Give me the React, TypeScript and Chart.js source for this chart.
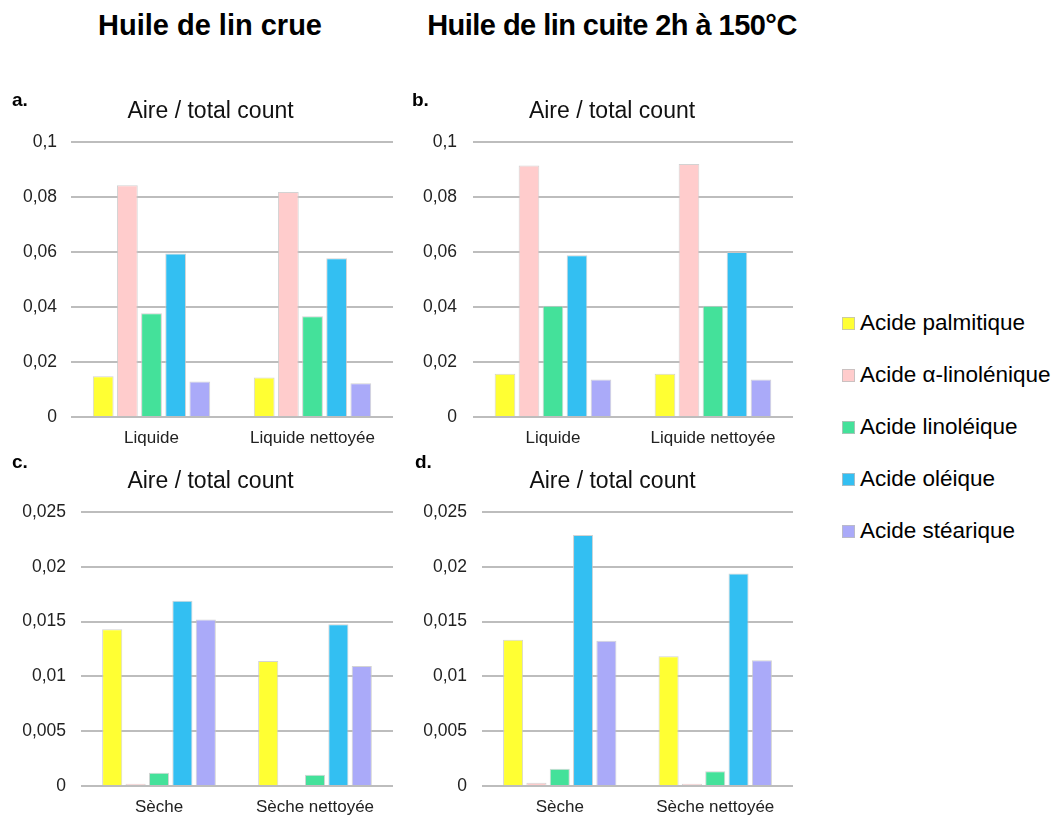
import React, { useEffect, useRef } from "react";
import { Chart, registerables } from "chart.js";

Chart.register(...registerables);

// ---- Data ----
const seriesNames = [
  "Acide palmitique",
  "Acide α-linolénique",
  "Acide linoléique",
  "Acide oléique",
  "Acide stéarique",
];
const seriesColors = ["#FFFF33", "#FFCCCC", "#44E19A", "#33BFF2", "#AAAAF9"];

const categoriesLiquide = ["Liquide", "Liquide nettoyée"];
const categoriesSeche = ["Sèche", "Sèche nettoyée"];

const columnTitles = ["Huile de lin crue", "Huile de lin cuite 2h à 150°C"];
const chartTitle = "Aire / total count";

const tickLabelsTop = ["0", "0,02", "0,04", "0,06", "0,08", "0,1"];
const tickLabelsBottom = ["0", "0,005", "0,01", "0,015", "0,02", "0,025"];

// a. crue, liquide
const palmitiqueA = [0.0148, 0.0144];
const linoleniqueA = [0.0843, 0.0818];
const linoleiqueA = [0.0377, 0.0366];
const oleiqueA = [0.0595, 0.0577];
const steariqueA = [0.0129, 0.0123];

// b. cuite, liquide
const palmitiqueB = [0.0157, 0.0157];
const linoleniqueB = [0.0915, 0.092];
const linoleiqueB = [0.0405, 0.0405];
const oleiqueB = [0.0588, 0.06];
const steariqueB = [0.0136, 0.0136];

// c. crue, sèche
const palmitiqueC = [0.0143, 0.0114];
const linoleniqueC = [0.0002, 0.00012];
const linoleiqueC = [0.00122, 0.00103];
const oleiqueC = [0.0169, 0.01475];
const steariqueC = [0.0152, 0.01095];

// d. cuite, sèche
const palmitiqueD = [0.01335, 0.01183];
const linoleniqueD = [0.0003, 0.0002];
const linoleiqueD = [0.00158, 0.00134];
const oleiqueD = [0.0229, 0.0194];
const steariqueD = [0.01326, 0.01147];

const FONT = "'Liberation Sans', Arial, Helvetica, sans-serif";

type PanelProps = {
  left: number;
  top: number;
  width: number;
  height: number;
  labels: string[];
  series: number[][];
  max: number;
  step: number;
  tickLabels: string[];
  titleShift: number;
  axisWidth: number;
  tickPad: number;
  titleTop: number;
  plotTop: number;
  xAxisHeight: number;
};

function Panel(p: PanelProps) {
  const ref = useRef<HTMLCanvasElement | null>(null);
  useEffect(() => {
    if (!ref.current) return;
    const titleLine = 23 * 1.2;
    const shiftTitle = {
      id: "shiftTitle",
      afterLayout(chart: any) {
        const tb = chart.titleBlock;
        if (tb) {
          tb.left += p.titleShift;
          tb.right += p.titleShift;
        }
      },
    };
    const chart = new Chart(ref.current, {
      type: "bar",
      data: {
        labels: p.labels,
        datasets: p.series.map((vals, i) => ({
          label: seriesNames[i],
          data: vals,
          backgroundColor: seriesColors[i],
          borderColor: "rgba(200,200,200,0.8)",
          borderWidth: 1,
          categoryPercentage: 0.75,
          barPercentage: 0.86,
        })),
      },
      plugins: [shiftTitle],
      options: {
        responsive: false,
        animation: false,
        layout: { padding: { left: 0, right: 7, top: 0, bottom: 0 } },
        plugins: {
          legend: { display: false },
          tooltip: { enabled: false },
          title: {
            display: true,
            text: chartTitle,
            color: "#111",
            font: { family: FONT, size: 23, weight: "normal" },
            padding: {
              top: p.titleTop - titleLine / 2,
              bottom: p.plotTop - p.titleTop - titleLine / 2,
            },
          },
        },
        scales: {
          x: {
            grid: { display: false, drawTicks: false },
            border: { display: false },
            ticks: {
              color: "#222",
              font: { family: FONT, size: 17 },
              padding: 11,
              maxRotation: 0,
            },
            afterFit: (s: any) => {
              s.height = p.xAxisHeight;
            },
          },
          y: {
            min: 0,
            max: p.max,
            grid: { color: "#BDBDBD", lineWidth: 2, drawTicks: false },
            border: { display: false },
            ticks: {
              stepSize: p.step,
              color: "#222",
              font: { family: FONT, size: 17.5 },
              padding: p.tickPad,
              callback: (_v: any, i: number) => p.tickLabels[i],
            },
            afterFit: (s: any) => {
              s.width = p.axisWidth;
            },
          },
        },
      },
    } as any);
    return () => chart.destroy();
  }, []);
  return (
    <canvas
      ref={ref}
      width={p.width}
      height={p.height}
      style={{
        position: "absolute",
        left: p.left,
        top: p.top,
        width: p.width,
        height: p.height,
      }}
    />
  );
}

const textStyle: React.CSSProperties = {
  position: "absolute",
  fontFamily: FONT,
  color: "#000",
  whiteSpace: "nowrap",
};

export default function App() {
  return (
    <div
      style={{
        position: "absolute",
        left: 0,
        top: 0,
        width: 1054,
        height: 815,
        overflow: "hidden",
        background: "#fff",
      }}
    >
      {/* column headers */}
      <div
        style={{
          ...textStyle,
          left: 210,
          top: 25,
          transform: "translate(-50%, -50%)",
          fontSize: 29,
          fontWeight: "bold",
          lineHeight: "34px",
        }}
      >
        {columnTitles[0]}
      </div>
      <div
        style={{
          ...textStyle,
          left: 612,
          top: 25,
          transform: "translate(-50%, -50%)",
          fontSize: 29,
          fontWeight: "bold",
          lineHeight: "34px",
          letterSpacing: "-0.55px",
        }}
      >
        {columnTitles[1]}
      </div>

      <Panel
        left={0}
        top={90}
        width={400}
        height={360}
        labels={categoriesLiquide}
        series={[palmitiqueA, linoleniqueA, linoleiqueA, oleiqueA, steariqueA]}
        max={0.1}
        step={0.02}
        tickLabels={tickLabelsTop}
        titleShift={14}
        axisWidth={71}
        tickPad={14}
        titleTop={22}
        plotTop={52}
        xAxisHeight={33}
      />
      <Panel
        left={400}
        top={90}
        width={400}
        height={360}
        labels={categoriesLiquide}
        series={[palmitiqueB, linoleniqueB, linoleiqueB, oleiqueB, steariqueB]}
        max={0.1}
        step={0.02}
        tickLabels={tickLabelsTop}
        titleShift={15.5}
        axisWidth={73}
        tickPad={16}
        titleTop={22}
        plotTop={52}
        xAxisHeight={33}
      />
      <Panel
        left={0}
        top={450}
        width={400}
        height={365}
        labels={categoriesSeche}
        series={[palmitiqueC, linoleniqueC, linoleiqueC, oleiqueC, steariqueC]}
        max={0.025}
        step={0.005}
        tickLabels={tickLabelsBottom}
        titleShift={14}
        axisWidth={81}
        tickPad={15}
        titleTop={32}
        plotTop={62}
        xAxisHeight={29}
      />
      <Panel
        left={400}
        top={450}
        width={400}
        height={365}
        labels={categoriesSeche}
        series={[palmitiqueD, linoleniqueD, linoleiqueD, oleiqueD, steariqueD]}
        max={0.025}
        step={0.005}
        tickLabels={tickLabelsBottom}
        titleShift={16}
        axisWidth={82}
        tickPad={15}
        titleTop={32}
        plotTop={62}
        xAxisHeight={29}
      />

      {/* panel letters */}
      {[
        ["a.", 12, 100],
        ["b.", 412, 100],
        ["c.", 12, 462],
        ["d.", 415, 462],
      ].map(([t, x, y]) => (
        <div
          key={t as string}
          style={{
            ...textStyle,
            left: x as number,
            top: (y as number) - 11,
            fontSize: 19,
            fontWeight: "bold",
            lineHeight: "22px",
          }}
        >
          {t}
        </div>
      ))}

      {/* legend */}
      {seriesNames.map((name, i) => (
        <div
          key={name}
          style={{
            ...textStyle,
            left: 842,
            top: 323 + i * 52 - 14,
            height: 28,
            display: "flex",
            alignItems: "center",
            fontSize: 22.5,
            lineHeight: "28px",
          }}
        >
          <span
            style={{
              display: "inline-block",
              width: 11,
              height: 11,
              background: seriesColors[i],
              border: "1px solid rgba(190,190,190,0.8)",
              marginRight: 5,
            }}
          />
          <span>{name}</span>
        </div>
      ))}
    </div>
  );
}
